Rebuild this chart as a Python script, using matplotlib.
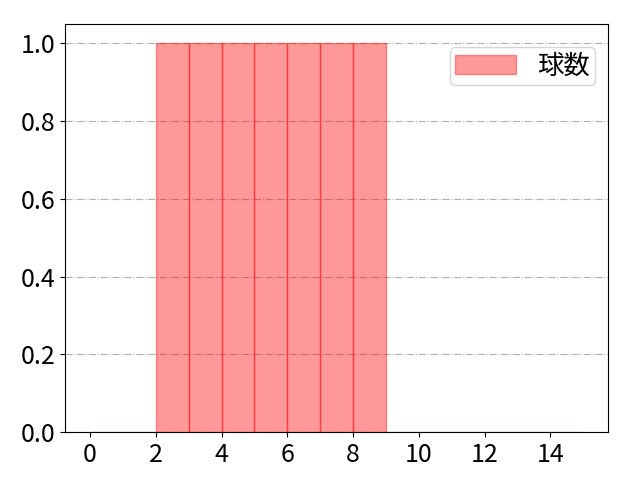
import matplotlib
matplotlib.use("Agg")
import matplotlib.pyplot as plt

plt.rcParams['font.family'] = ['Noto Sans CJK JP', 'DejaVu Sans']

# ビン (左端) と度数
bin_left = list(range(0, 15))
counts = [0, 0, 1, 1, 1, 1, 1, 1, 1, 0, 0, 0, 0, 0, 0]
label = '球数'

fig, ax = plt.subplots(figsize=(6.4, 4.8), dpi=100)
ax.bar(bin_left, counts, width=1, align='edge', color='red', alpha=0.4,
       edgecolor='red', linewidth=1, label=label)
ax.grid(axis='y', linestyle='-.', color='#b0b0b0', linewidth=0.8)
ax.set_axisbelow(True)
ax.set_xticks(range(0, 16, 2))
ax.tick_params(labelsize=18)
ax.legend(loc='upper right', fontsize=19, borderpad=0.2, handleheight=0.75,
          handlelength=2.3, bbox_to_anchor=(1.0, 0.975))
fig.subplots_adjust(left=0.102, right=0.95, top=0.95, bottom=0.1)
fig.savefig('out.png')
